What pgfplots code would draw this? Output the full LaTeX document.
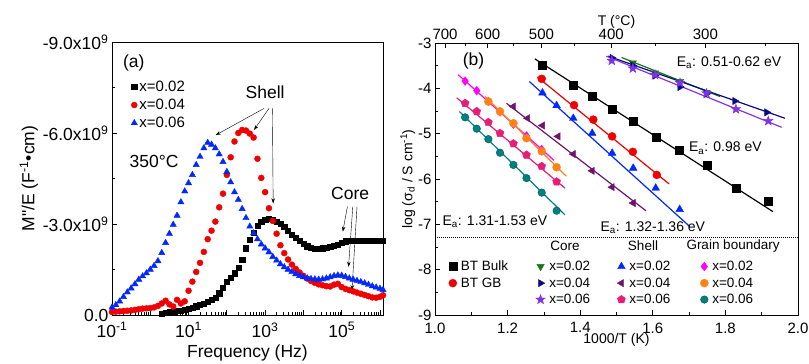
\documentclass[border=0pt]{standalone}
\usepackage{fontspec}
\setmainfont{Liberation Sans}
\usepackage{pgfplots}
\usepackage{pgfplotstable}
\pgfplotsset{compat=1.18}
\usetikzlibrary{plotmarks,arrows.meta}

\definecolor{cgreen}{RGB}{20,120,20}
\definecolor{cnavy}{RGB}{10,10,130}
\definecolor{cviolet}{RGB}{130,50,230}
\definecolor{cblue}{RGB}{0,40,255}
\definecolor{cpurple}{RGB}{110,20,110}
\definecolor{cpink}{RGB}{230,30,120}
\definecolor{cmag}{RGB}{255,0,255}
\definecolor{corange}{RGB}{255,130,20}
\definecolor{cteal}{RGB}{0,128,128}
\definecolor{cred}{RGB}{240,0,0}

\pgfdeclareplotmark{fstar}{%
\pgfpathmoveto{\pgfpointpolar{90}{1.25\pgfplotmarksize}}%
\pgfpathlineto{\pgfpointpolar{126}{0.5\pgfplotmarksize}}%
\pgfpathlineto{\pgfpointpolar{162}{1.25\pgfplotmarksize}}%
\pgfpathlineto{\pgfpointpolar{198}{0.5\pgfplotmarksize}}%
\pgfpathlineto{\pgfpointpolar{234}{1.25\pgfplotmarksize}}%
\pgfpathlineto{\pgfpointpolar{270}{0.5\pgfplotmarksize}}%
\pgfpathlineto{\pgfpointpolar{306}{1.25\pgfplotmarksize}}%
\pgfpathlineto{\pgfpointpolar{342}{0.5\pgfplotmarksize}}%
\pgfpathlineto{\pgfpointpolar{18}{1.25\pgfplotmarksize}}%
\pgfpathlineto{\pgfpointpolar{54}{0.5\pgfplotmarksize}}%
\pgfpathclose\pgfusepathqfillstroke}

\newcommand\fa{\fontsize{17.5}{20}\selectfont}
\newcommand\fb{\fontsize{15}{17}\selectfont}
\newcommand\fc{\fontsize{14}{16}\selectfont}
\newcommand\fl{\fontsize{13.5}{15}\selectfont}

% ---- panel (a) data: log10(f), -M''/E in 1e9 ----
\pgfplotstableread{
lf m
0.3 0.05
0.4 0.07
0.5 0.09
0.6 0.11
0.7 0.13
0.8 0.15
0.9 0.17
1.0 0.20
1.1 0.24
1.2 0.29
1.3 0.34
1.4 0.38
1.5 0.44
1.6 0.50
1.7 0.58
1.8 0.72
1.9 0.90
2.0 1.10
2.1 1.22
2.2 1.38
2.3 1.55
2.4 1.82
2.5 2.20
2.6 2.48
2.7 2.72
2.8 2.95
2.9 3.08
3.0 3.15
3.1 3.18
3.2 3.15
3.3 3.08
3.4 3.00
3.5 2.90
3.6 2.79
3.7 2.66
3.8 2.55
3.9 2.45
4.0 2.35
4.1 2.27
4.2 2.22
4.3 2.19
4.4 2.18
4.5 2.20
4.6 2.22
4.7 2.25
4.8 2.28
4.9 2.32
5.0 2.38
5.1 2.43
5.2 2.45
5.3 2.45
5.4 2.45
5.5 2.45
5.6 2.45
5.7 2.45
5.8 2.45
5.9 2.45
6.0 2.45
6.08 2.45
}\dataA

\pgfplotstableread{
lf m
-1.0 0.10
-0.9 0.11
-0.8 0.12
-0.7 0.13
-0.6 0.14
-0.5 0.15
-0.4 0.17
-0.3 0.19
-0.2 0.21
-0.1 0.22
0.0 0.23
0.1 0.25
0.2 0.30
0.3 0.38
0.4 0.47
0.5 0.35
0.6 0.28
0.7 0.50
0.8 0.38
0.9 0.45
1.0 0.80
1.1 1.10
1.2 1.42
1.3 1.72
1.4 2.08
1.5 2.50
1.6 2.78
1.7 3.08
1.8 3.55
1.9 4.00
2.0 4.62
2.1 5.20
2.2 5.72
2.3 6.00
2.4 6.10
2.5 6.08
2.6 5.98
2.7 5.85
2.8 5.15
2.9 4.52
3.0 4.05
3.1 3.52
3.2 3.10
3.3 2.68
3.4 2.30
3.5 2.04
3.6 1.83
3.7 1.66
3.8 1.52
3.9 1.40
4.0 1.29
4.1 1.20
4.2 1.12
4.3 1.06
4.4 1.01
4.5 0.98
4.6 0.95
4.7 0.94
4.8 1.00
4.9 1.03
5.0 0.92
5.1 0.86
5.2 0.82
5.3 0.78
5.4 0.74
5.5 0.70
5.6 0.66
5.7 0.62
5.8 0.58
5.9 0.57
6.0 0.60
6.08 0.65
}\dataB

\pgfplotstableread{
lf m
-1.0 0.25
-0.9 0.33
-0.8 0.45
-0.7 0.60
-0.6 0.75
-0.5 0.88
-0.4 1.02
-0.3 1.17
-0.2 1.28
-0.1 1.38
0.0 1.50
0.1 1.62
0.2 1.78
0.3 2.05
0.4 2.38
0.5 2.68
0.6 2.98
0.7 3.28
0.8 3.72
0.9 4.08
1.0 4.35
1.1 4.62
1.2 4.95
1.3 5.22
1.4 5.50
1.5 5.68
1.6 5.62
1.7 5.50
1.8 5.30
1.9 5.05
2.0 4.72
2.1 4.38
2.2 4.05
2.3 3.80
2.4 3.50
2.5 3.20
2.6 2.92
2.7 2.70
2.8 2.50
2.9 2.33
3.0 2.20
3.1 2.07
3.2 1.92
3.3 1.80
3.4 1.68
3.5 1.58
3.6 1.50
3.7 1.42
3.8 1.35
3.9 1.29
4.0 1.25
4.1 1.21
4.2 1.19
4.3 1.18
4.4 1.17
4.5 1.18
4.6 1.21
4.7 1.25
4.8 1.29
4.9 1.31
5.0 1.30
5.1 1.26
5.2 1.21
5.3 1.17
5.4 1.13
5.5 1.09
5.6 1.05
5.7 1.00
5.8 0.95
5.9 0.91
6.0 0.87
6.08 0.83
}\dataC

\begin{document}
\begin{tikzpicture}
\useasboundingbox (0,0) rectangle (809pt,-364pt);

% ================= panel (a) =================
\begin{axis}[
  at={(112pt,-42pt)}, anchor=north west,
  scale only axis, width=271pt, height=273pt,
  xmode=log, xmin=0.1, xmax=1.2e6, ymin=0, ymax=9,
  axis line style={line width=0.9pt},
  tick style={black, line width=0.7pt},
  tick align=inside, tick pos=left,
  major tick length=5pt, minor tick length=3pt,
  xtick={0.1,1,10,100,1000,1e4,1e5,1e6},
  xticklabels={10\textsuperscript{-1},,10\textsuperscript{1},,10\textsuperscript{3},,10\textsuperscript{5},},
  minor xtick={0.2,0.3,0.4,0.5,0.6,0.7,0.8,0.9,2,3,4,5,6,7,8,9,20,30,40,50,60,70,80,90,200,300,400,500,600,700,800,900,2000,3000,4000,5000,6000,7000,8000,9000,20000,30000,40000,50000,60000,70000,80000,90000,200000,300000,400000,500000,600000,700000,800000,900000},
  ytick={0,3,6,9},
  yticklabels={0.0,-3.0x10\textsuperscript{9},-6.0x10\textsuperscript{9},-9.0x10\textsuperscript{9}},
  minor ytick={1.5,4.5,7.5},
  tick label style={font=\fa},
  xticklabel style={yshift=-4pt},
  xlabel={Frequency (Hz)}, ylabel={M\textquotedbl/E (F\textsuperscript{-1}•cm)},
  label style={font=\fa},
  xlabel style={yshift=0pt},
  ylabel style={yshift=-2pt},
  legend cell align=left,
  legend style={at={(0.07,0.865)}, anchor=north west, draw=none, fill=none,
    font=\fb, row sep=2pt, inner sep=0pt},
  clip=false,
]
\addplot[only marks, mark=square*, mark size=2.6pt, black]
  table[x expr={10^(\thisrow{lf})}, y=m] {\dataA};
\addlegendentry{x=0.02}
\addplot[only marks, mark=*, mark size=3.0pt, cred]
  table[x expr={10^(\thisrow{lf})}, y=m] {\dataB};
\addlegendentry{x=0.04}
\addplot[only marks, mark=triangle*, mark size=3.6pt, cblue]
  table[x expr={10^(\thisrow{lf})}, y=m] {\dataC};
\addlegendentry{x=0.06}

\node[font=\fa, anchor=center] at (axis cs:0.37,8.31) {(a)};
\node[font=\fa] at (axis cs:1.26,5.05) {350°C};
\node[font=\fa] at (axis cs:1000,7.35) {Shell};
\node[font=\fa] at (axis cs:1.66e5,4.02) {Core};
\draw[-{Stealth[length=5pt,width=3.5pt]}, thin] (axis cs:933,6.81) -- (axis cs:51,5.93);
\draw[-{Stealth[length=5pt,width=3.5pt]}, thin] (axis cs:1259,6.81) -- (axis cs:513,6.10);
\draw[-{Stealth[length=5pt,width=3.5pt]}, thin] (axis cs:1549,6.81) -- (axis cs:1622,3.68);
\draw[-{Stealth[length=5pt,width=3.5pt]}, thin] (axis cs:1.41e5,3.57) -- (axis cs:1.07e5,2.75);
\draw[-{Stealth[length=5pt,width=3.5pt]}, thin] (axis cs:1.95e5,3.57) -- (axis cs:1.51e5,1.59);
\draw[-{Stealth[length=5pt,width=3.5pt]}, thin] (axis cs:2.51e5,3.57) -- (axis cs:1.86e5,0.82);
\end{axis}

% ================= panel (b) top axis =================
\begin{axis}[
  at={(435pt,-43pt)}, anchor=north west,
  scale only axis, width=363pt, height=272pt,
  xmin=1, xmax=2, ymin=-9, ymax=-3,
  axis x line*=top, axis y line=none,
  axis line style={line width=0.9pt},
  tick style={black, line width=0.7pt},
  tick align=inside, major tick length=5pt, minor tick length=3pt,
  xtick={1.0277,1.1453,1.2934,1.4855,1.7449},
  xticklabels={700,600,500,400,300},
  minor xtick={1.0834,1.2149,1.3829,1.6077,1.9114},
  tick label style={font=\fb},
  xlabel={T (°C)}, label style={font=\fc},
  xlabel style={yshift=-6pt},
]
\addplot[draw=none, forget plot] coordinates {(1,-9) (2,-3)};
\end{axis}

% ================= panel (b) =================
\begin{axis}[
  at={(435pt,-43pt)}, anchor=north west,
  scale only axis, width=363pt, height=272pt,
  xmin=1, xmax=2, ymin=-9, ymax=-3,
  axis line style={line width=0.9pt},
  tick style={black, line width=0.7pt},
  tick align=inside, tick pos=left,
  major tick length=5pt, minor tick length=3pt,
  xtick={1.0,1.2,1.4,1.6,1.8,2.0}, minor x tick num=1,
  ytick={-9,-8,-7,-6,-5,-4,-3}, minor y tick num=1,
  xticklabel style={yshift=-4pt, /pgf/number format/.cd, fixed, fixed zerofill, precision=1},
  /pgf/number format/assume math mode=true,
  tick label style={font=\fb},
  xlabel={1000/T (K)}, ylabel={log (σ\textsubscript{d} / S cm\textsuperscript{-1})},
  label style={font=\fc},
  xlabel style={yshift=7pt},
  ylabel style={yshift=-4pt},
  legend columns=4, legend cell align=left,
  legend style={at={(0.025,0.207)}, anchor=north west, draw=none, fill=none,
    font=\fl, row sep=1.5pt, inner sep=0pt,
    /tikz/every odd column/.append style={column sep=2pt},
    /tikz/column 4/.append style={column sep=25pt},
    /tikz/column 6/.append style={column sep=28pt}},
  clip=false,
]
% fitted lines
\addplot[black, line width=1.2pt, forget plot] coordinates {(1.275,-3.35) (1.931,-6.72)};
\addplot[cred, line width=1.2pt, forget plot] coordinates {(1.282,-3.75) (1.645,-6.11)};
\addplot[cblue, line width=1.2pt, forget plot] coordinates {(1.260,-3.85) (1.702,-7.05)};
\addplot[cpurple, line width=1.2pt, forget plot] coordinates {(1.197,-4.33) (1.581,-6.70)};
\addplot[cpink, line width=1.2pt, forget plot] coordinates {(1.060,-4.21) (1.358,-6.20)};
\addplot[cmag, line width=1.2pt, forget plot] coordinates {(1.064,-3.70) (1.328,-5.59)};
\addplot[corange, line width=1.2pt, forget plot] coordinates {(1.138,-4.18) (1.362,-5.94)};
\addplot[cteal, line width=1.2pt, forget plot] coordinates {(1.067,-4.51) (1.358,-6.79)};
\addplot[cgreen, line width=1.2pt, forget plot] coordinates {(1.514,-3.32) (1.785,-4.18)};
\addplot[cnavy, line width=1.2pt, forget plot] coordinates {(1.477,-3.29) (1.964,-4.66)};
\addplot[cviolet, line width=1.2pt, forget plot] coordinates {(1.472,-3.29) (1.955,-4.86)};
\addplot[black, densely dotted, line width=1pt, forget plot] coordinates {(1,-7.3) (2,-7.3)};

% row 1
\addplot[only marks, mark=square*, mark size=4pt, black] coordinates {
 (1.296,-3.48) (1.381,-3.92) (1.433,-4.18) (1.488,-4.45) (1.546,-4.73)
 (1.608,-5.08) (1.674,-5.37) (1.750,-5.69) (1.830,-6.20) (1.917,-6.50)};
\addlegendentry{\makebox[73pt][l]{BT Bulk}}
\addplot[only marks, mark=triangle*, mark size=4.2pt, cgreen, mark options={rotate=180}] coordinates {
 (1.545,-3.44) (1.606,-3.66) (1.675,-3.85) (1.748,-4.09)};
\addlegendentry{x=0.02}
\addplot[only marks, mark=triangle*, mark size=4.4pt, cblue] coordinates {
 (1.296,-4.10) (1.335,-4.38) (1.381,-4.66) (1.433,-4.99) (1.488,-5.43)
 (1.546,-5.76) (1.608,-6.20) (1.674,-6.67)};
\addlegendentry{x=0.02}
\addplot[only marks, mark=diamond*, mark size=4.4pt, cmag] coordinates {
 (1.083,-3.84) (1.115,-4.05) (1.147,-4.29) (1.179,-4.52) (1.216,-4.79)
 (1.252,-5.05) (1.294,-5.35)};
\addlegendentry{x=0.02}
% row 2
\addplot[only marks, mark=*, mark size=4pt, cred] coordinates {
 (1.294,-3.79) (1.383,-4.37) (1.436,-4.69) (1.488,-5.06) (1.545,-5.40) (1.611,-5.91)};
\addlegendentry{BT GB}
\addplot[only marks, mark=triangle*, mark size=4.2pt, cnavy, mark options={rotate=-90}] coordinates {
 (1.488,-3.33) (1.545,-3.50) (1.606,-3.72) (1.675,-3.97) (1.748,-4.12)
 (1.826,-4.28) (1.914,-4.53)};
\addlegendentry{x=0.04}
\addplot[only marks, mark=triangle*, mark size=4.2pt, cpurple, mark options={rotate=90}] coordinates {
 (1.216,-4.40) (1.255,-4.66) (1.296,-4.82) (1.339,-5.06) (1.381,-5.45)
 (1.433,-5.82) (1.488,-6.18) (1.546,-6.53)};
\addlegendentry{x=0.04}
\addplot[only marks, mark=*, mark size=4pt, corange] coordinates {
 (1.147,-4.29) (1.179,-4.51) (1.216,-4.77) (1.252,-5.10) (1.294,-5.39) (1.335,-5.74)};
\addlegendentry{x=0.04}
% row 3
\addlegendimage{empty legend}
\addlegendentry{}
\addplot[only marks, mark=fstar, mark size=4pt, cviolet] coordinates {
 (1.487,-3.39) (1.545,-3.56) (1.606,-3.70) (1.675,-3.88) (1.748,-4.11)
 (1.829,-4.46) (1.918,-4.72)};
\addlegendentry{x=0.06}
\addplot[only marks, mark=pentagon*, mark size=4.2pt, cpink] coordinates {
 (1.083,-4.33) (1.115,-4.51) (1.147,-4.75) (1.179,-4.99) (1.216,-5.22)
 (1.252,-5.47) (1.294,-5.72) (1.335,-6.06)};
\addlegendentry{x=0.06}
\addplot[only marks, mark=*, mark size=3.8pt, cteal, mark options={draw=cteal!70!black}] coordinates {
 (1.083,-4.64) (1.115,-4.89) (1.147,-5.12) (1.179,-5.42) (1.216,-5.69)
 (1.252,-5.98) (1.294,-6.30) (1.335,-6.70)};
\addlegendentry{x=0.06}

\node[font=\fa] at (axis cs:1.106,-3.40) {(b)};
\node[font=\fc] at (axis cs:1.81,-3.44) {E\textsubscript{a}: 0.51-0.62 eV};
\node[font=\fc] at (axis cs:1.80,-5.32) {E\textsubscript{a}: 0.98 eV};
\node[font=\fc] at (axis cs:1.165,-6.95) {E\textsubscript{a}: 1.31-1.53 eV};
\node[font=\fc] at (axis cs:1.60,-7.08) {E\textsubscript{a}: 1.32-1.36 eV};
\node[font=\fl] at (axis cs:1.358,-7.48) {Core};
\node[font=\fl] at (axis cs:1.573,-7.48) {Shell};
\node[font=\fl] at (axis cs:1.821,-7.48) {Grain boundary};
\end{axis}
\end{tikzpicture}
\end{document}
